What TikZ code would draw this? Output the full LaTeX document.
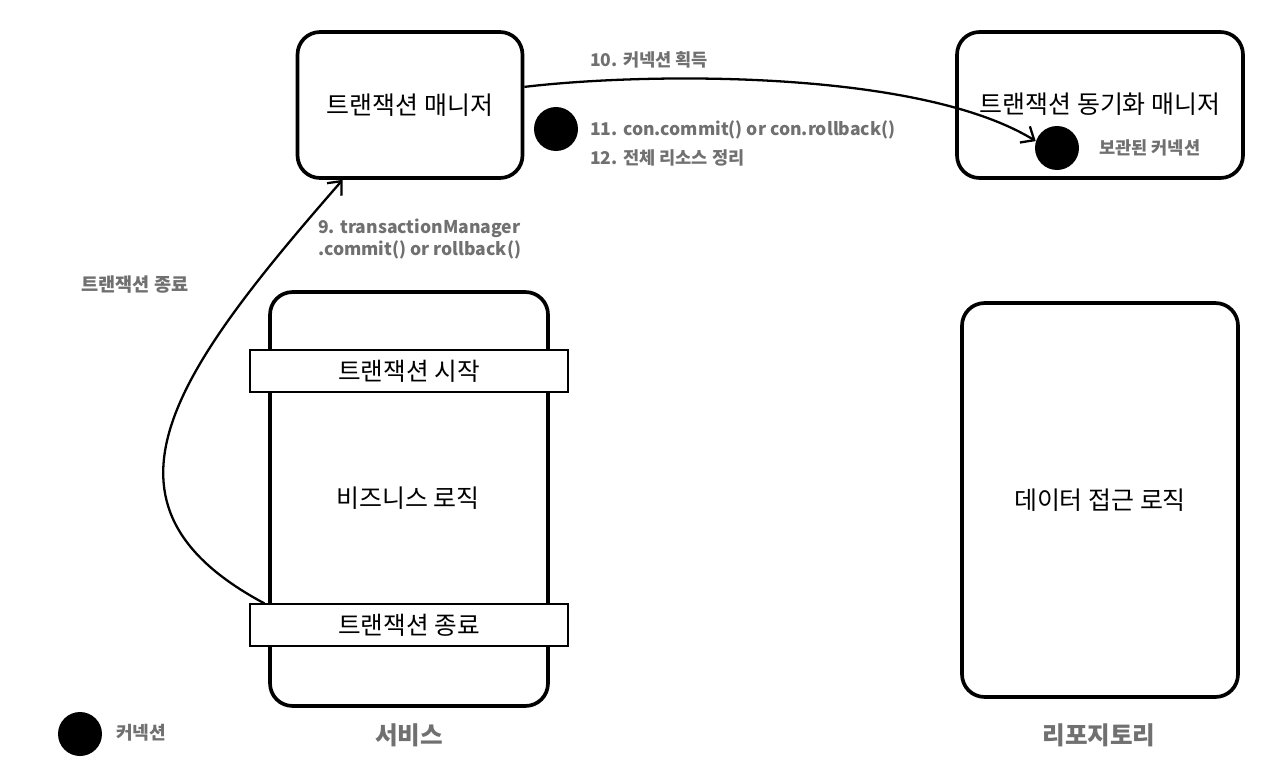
\documentclass[tikz,border=0pt]{standalone}
\usepackage{fontspec}
\setmainfont{Noto Sans CJK KR}
\usetikzlibrary{arrows.meta}

\definecolor{labelgray}{HTML}{707070}

\tikzset{
  roughbox/.style={draw, line width=2.1pt, rounded corners=0.45cm},
  titletext/.style={font=\fontsize{14.2}{17}\selectfont},
  txbar/.style={draw, line width=0.7pt, fill=white, minimum width=6.36cm,
    minimum height=0.84cm, font=\fontsize{14}{17}\selectfont},
  conn/.style={circle, fill=black, minimum size=0.88cm, inner sep=0pt},
  graylabel/.style={text=labelgray, font=\bfseries\fontsize{10}{12}\selectfont},
  groupname/.style={text=labelgray, font=\bfseries\fontsize{14}{17}\selectfont},
}

\begin{document}
\begin{tikzpicture}[x=0.02cm, y=-0.02cm, >={Straight Barb[length=2.2mm,width=3.8mm]}]
\useasboundingbox (0,0) rectangle (1268,778);

\node[roughbox, minimum width=4.5cm, minimum height=2.92cm, titletext] (tm) at (410,105) {트랜잭션 매니저};
\node[roughbox, minimum width=5.72cm, minimum height=2.92cm] (sync) at (1100,105) {};
\node[titletext] (synctitle) at (1100,104) {트랜잭션 동기화 매니저};
\node[roughbox, minimum width=5.56cm, minimum height=8.28cm] (service) at (409,499) {};
\node[titletext] (logic) at (408,498) {비즈니스 로직};
\node[roughbox, minimum width=5.52cm, minimum height=7.88cm, titletext] (repo) at (1100,500) {데이터 접근 로직};

\node[txbar] (txstart) at (409,371) {트랜잭션 시작};
\node[txbar] (txend) at (409,625) {트랜잭션 종료};

\node[conn] (tmdot) at (556,129) {};
\node[conn] (heldconn) at (1057,148) {};
\node[conn] (legenddot) at (80,734) {};

\node[graylabel, anchor=west] (heldlabel) at (1093,148) {보관된 커넥션};
\node[graylabel, anchor=west] (step10) at (584,60) {10. 커넥션 획득};
\node[graylabel, anchor=west] (step11) at (584,130) {11. con.commit() or con.rollback()};
\node[graylabel, anchor=west] (step12) at (584,158) {12. 전체 리소스 정리};
\node[graylabel, anchor=west, align=left] (step9) at (312,239) {9. transactionManager\\.commit() or rollback()};
\node[graylabel, font=\bfseries\fontsize{10.6}{12}\selectfont] (endlabel) at (135,285) {트랜잭션 종료};
\node[graylabel, font=\bfseries\fontsize{10.3}{12}\selectfont] (legendlabel) at (141,733) {커넥션};

\node[groupname] (servicename) at (409,735) {서비스};
\node[groupname] (reponame) at (1099,735) {리포지토리};

\draw[->, line width=1.3pt] (tm.9) .. controls (650,72) and (920,70) .. (heldconn.162);
\draw[->, line width=1.3pt] ([xshift=0.3cm]txend.north west) .. controls (80,505) and (173,374) .. (tm.228);
\end{tikzpicture}
\end{document}
